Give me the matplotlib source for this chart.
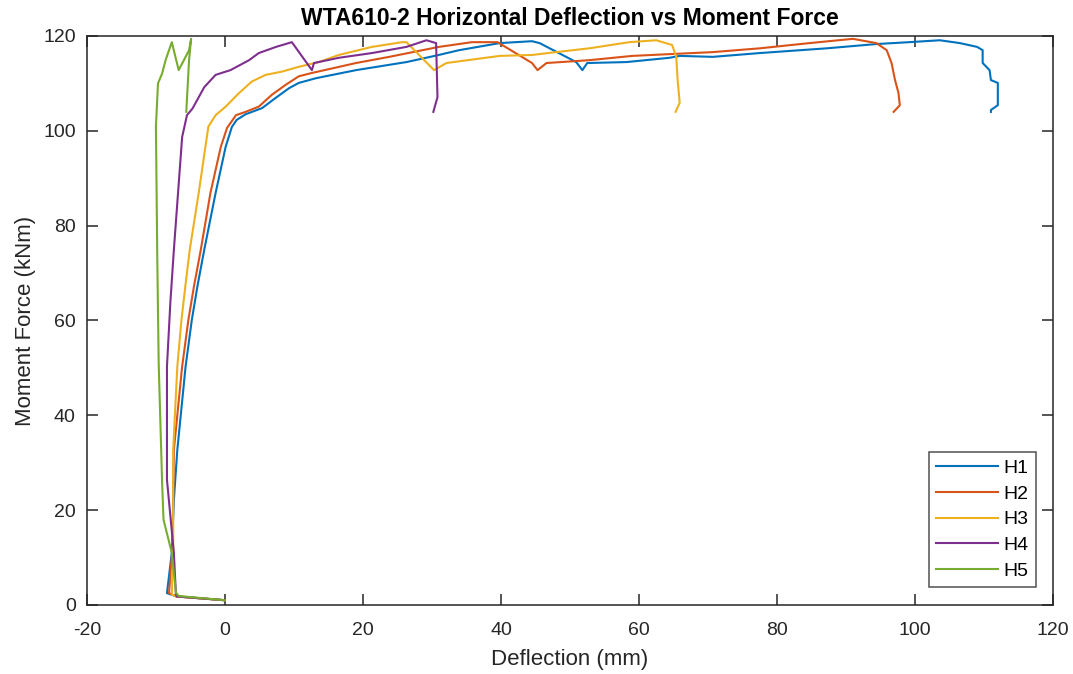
import matplotlib.pyplot as plt

plt.rcParams['font.family'] = ['Liberation Sans', 'DejaVu Sans']
plt.rcParams['axes.unicode_minus'] = False

# deflection (mm) / moment (kNm) traces for each gauge
h1_x = [0, -7.0, -8.4, -7.7, -7.4, -6.9, -5.7, -4.8, -4.0, -3.0, -1.35, 0.1, 1.0, 1.7, 3.0, 5.4, 7.4,
        9.3, 10.7, 13.2, 19.0, 26.3, 31.0, 33.9, 39.8, 44.5, 45.6, 50.9, 51.8, 52.5, 58.2, 64.4, 65.9,
        70.7, 77.5, 87.2, 94.4, 99.2, 103.6, 106.5, 109.0, 109.8, 109.8, 110.8, 111.0, 112.0, 112.0,
        111.0, 111.0]
h1_y = [1.0, 1.8, 2.5, 11.0, 22.1, 32.7, 50.3, 60.1, 67.1, 74.9, 86.9, 96.6, 100.8, 102.3, 103.5,
        104.8, 107.0, 109.0, 110.1, 111.1, 112.8, 114.5, 116.0, 117.0, 118.5, 118.9, 118.5, 114.5,
        112.8, 114.3, 114.5, 115.4, 115.8, 115.6, 116.4, 117.4, 118.3, 118.7, 119.1, 118.5, 117.7,
        117.0, 114.3, 112.8, 110.7, 110.1, 105.4, 104.4, 104.0]

h2_x = [0, -7.0, -8.1, -7.6, -7.4, -6.2, -5.3, -4.5, -3.5, -2.1, -0.6, 0.3, 1.6, 3.0, 4.9, 6.8, 8.8,
        10.7, 12.6, 19.0, 23.8, 28.6, 31.0, 35.8, 39.5, 44.5, 45.3, 46.6, 52.8, 59.0, 64.8, 70.7,
        77.5, 84.7, 91.0, 94.4, 95.9, 96.6, 97.1, 97.6, 97.8, 96.9]
h2_y = [1.0, 1.8, 2.5, 12.0, 32.7, 50.3, 60.1, 67.1, 74.9, 86.9, 96.6, 100.6, 103.3, 104.0, 105.1,
        107.6, 109.7, 111.5, 112.2, 114.3, 115.6, 117.0, 117.7, 118.7, 118.7, 114.3, 112.8, 114.3,
        114.9, 115.8, 116.2, 116.6, 117.4, 118.5, 119.4, 118.5, 117.0, 114.3, 110.7, 108.0, 105.4,
        104.0]

h3_x = [0, -7.0, -7.7, -7.5, -7.5, -6.9, -6.3, -5.7, -5.1, -3.8, -2.4, -1.35, 0.1, 2.0, 3.9, 5.9, 8.3,
        10.7, 13.6, 16.5, 21.3, 25.7, 26.3, 30.3, 32.1, 39.8, 44.5, 48.0, 52.8, 58.6, 62.5, 64.8,
        65.4, 65.6, 65.9, 65.3]
h3_y = [1.0, 1.8, 2.2, 12.0, 32.7, 50.3, 60.1, 67.7, 74.9, 86.9, 100.9, 103.3, 105.1, 107.9, 110.4,
        111.8, 112.5, 113.5, 114.5, 116.0, 117.7, 118.7, 118.7, 112.8, 114.3, 115.8, 116.0, 116.6,
        117.4, 118.7, 119.1, 118.1, 115.6, 110.7, 105.9, 104.0]

h4_x = [0, -7.0, -7.1, -7.4, -8.4, -8.4, -7.9, -7.4, -6.2, -5.5, -4.7, -3.0, -1.35, 0.8, 3.5, 4.9,
        7.4, 9.7, 12.6, 12.9, 16.5, 21.3, 26.3, 29.2, 30.6, 30.8, 30.2]
h4_y = [1.0, 1.8, 2.2, 11.0, 26.4, 50.3, 64.0, 74.9, 98.7, 103.3, 104.7, 109.2, 111.8, 112.8, 114.9,
        116.4, 117.7, 118.7, 112.8, 114.3, 115.4, 116.4, 117.7, 119.1, 118.5, 107.1, 104.0]

h5_x = [0, -6.7, -7.1, -7.7, -8.3, -8.9, -9.1, -9.6, -9.8, -10.0, -9.7, -9.1, -8.6, -7.7, -6.7, -5.2,
        -4.9, -5.2, -5.6]
h5_y = [1.0, 1.9, 2.6, 11.0, 14.5, 18.0, 25.7, 51.0, 72.8, 100.9, 110.0, 112.1, 114.9, 118.7, 112.8,
        117.0, 119.4, 114.9, 104.0]

series = [('H1', h1_x, h1_y, '#0072BD'),
          ('H2', h2_x, h2_y, '#D95319'),
          ('H3', h3_x, h3_y, '#EDB120'),
          ('H4', h4_x, h4_y, '#7E2F8E'),
          ('H5', h5_x, h5_y, '#77AC30')]

fig = plt.figure(figsize=(10.73, 6.74), dpi=100)
ax = fig.add_axes([0.081, 0.1024, 0.9004, 0.8442])

for name, xs, ys, col in series:
    ax.plot(xs, ys, color=col, lw=1.5, label=name)

ax.set_xlim(-20, 120)
ax.set_ylim(0, 120)
ax.set_xticks(range(-20, 121, 20))
ax.set_yticks(range(0, 121, 20))

axis_col = '#262626'
for s in ax.spines.values():
    s.set_color(axis_col)
    s.set_linewidth(1.1)
ax.tick_params(direction='in', length=8, width=1.1, colors=axis_col, labelsize=14,
               top=True, right=True)
ax.tick_params(axis='x', pad=12)
ax.tick_params(axis='y', pad=8)

ax.set_title('WTA610-2 Horizontal Deflection vs Moment Force', fontsize=16.5, fontweight='bold',
             color='black', pad=8)
ax.set_xlabel('Deflection (mm)', fontsize=16, color=axis_col, labelpad=7.5)
ax.set_ylabel('Moment Force (kNm)', fontsize=16, color=axis_col, labelpad=5)

leg = ax.legend(loc='lower right', fontsize=14, handlelength=3.2, handletextpad=0.3,
                frameon=True, fancybox=False, edgecolor=axis_col, borderpad=0.35,
                labelspacing=0.42, borderaxespad=0, bbox_to_anchor=(0.982, 0.032))
leg.get_frame().set_linewidth(1.1)

fig.savefig('out.png', dpi=100)
